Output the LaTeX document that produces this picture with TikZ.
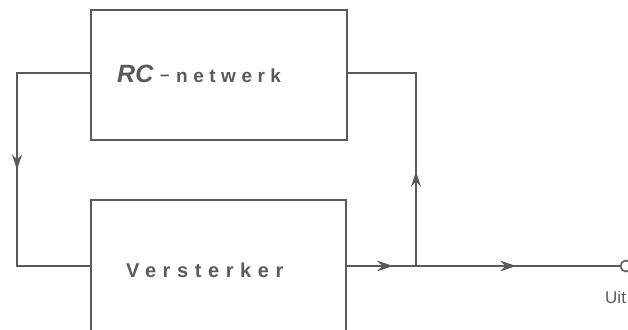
\documentclass[tikz,border=0pt]{standalone}
\usepackage{fontspec}
\newfontfamily\labfont[LetterSpace=33]{Liberation Sans}
\newfontfamily\netfont[LetterSpace=29]{Liberation Sans}
\newfontfamily\rcfont{Liberation Sans}
\usetikzlibrary{arrows.meta,decorations.markings}
\definecolor{ink}{HTML}{5A5A5A}
\begin{document}
\begin{tikzpicture}[x=1pt,y=-1pt,
  line/.style={draw=ink,line width=1.8pt},
  blockbox/.style={draw=ink,line width=1.8pt,inner sep=0pt},
  midarrow/.style={postaction={decorate},decoration={markings,
     mark=at position #1 with {\arrow[ink]{Stealth[length=15pt,width=10pt,inset=5pt]}}}},
  lab/.style={text=ink,inner sep=0pt,anchor=base west}]
\useasboundingbox (0,0) rectangle (628,329);
\node[blockbox,minimum width=256pt,minimum height=130pt] (rc) at (219,75) {};
\node[blockbox,minimum width=255pt,minimum height=132pt] (amp) at (218.5,266) {};
\node[lab,font=\rcfont\fontsize{25}{26}\selectfont\bfseries\itshape] (rct) at (117,82) {RC};
\node[lab,font=\rcfont\fontsize{17}{18}\selectfont\bfseries] (dash) at (160,80) {–};
\node[lab,font=\netfont\fontsize{19}{20}\selectfont\bfseries] (net) at (176,82) {netwerk};
\node[lab,font=\labfont\fontsize{20}{21}\selectfont\bfseries] (ampt) at (126,277) {Versterker};
\coordinate (lt) at (17,73);
\coordinate (lb) at (17,266);
\coordinate (rt) at (416,73);
\coordinate (jn) at (416,266);
\coordinate (rcw) at (91,73);
\coordinate (rce) at (347,73);
\coordinate (ampw) at (91,266);
\coordinate (ampe) at (346,266);
\node[circle,draw=ink,line width=1.6pt,minimum size=11pt,inner sep=0pt] (out) at (626,266) {};
\node[lab,font=\rcfont\fontsize{17}{18}\selectfont] (uit) at (605,303) {Uit};
\draw[line,midarrow=0.5] (rcw) -- (lt) -- (lb) -- (ampw);
\draw[line,midarrow=0.36] (jn) -- (rt) -- (rce);
\draw[line,midarrow=0.17,midarrow=0.62] (ampe) -- (out.west);
\end{tikzpicture}
\end{document}
